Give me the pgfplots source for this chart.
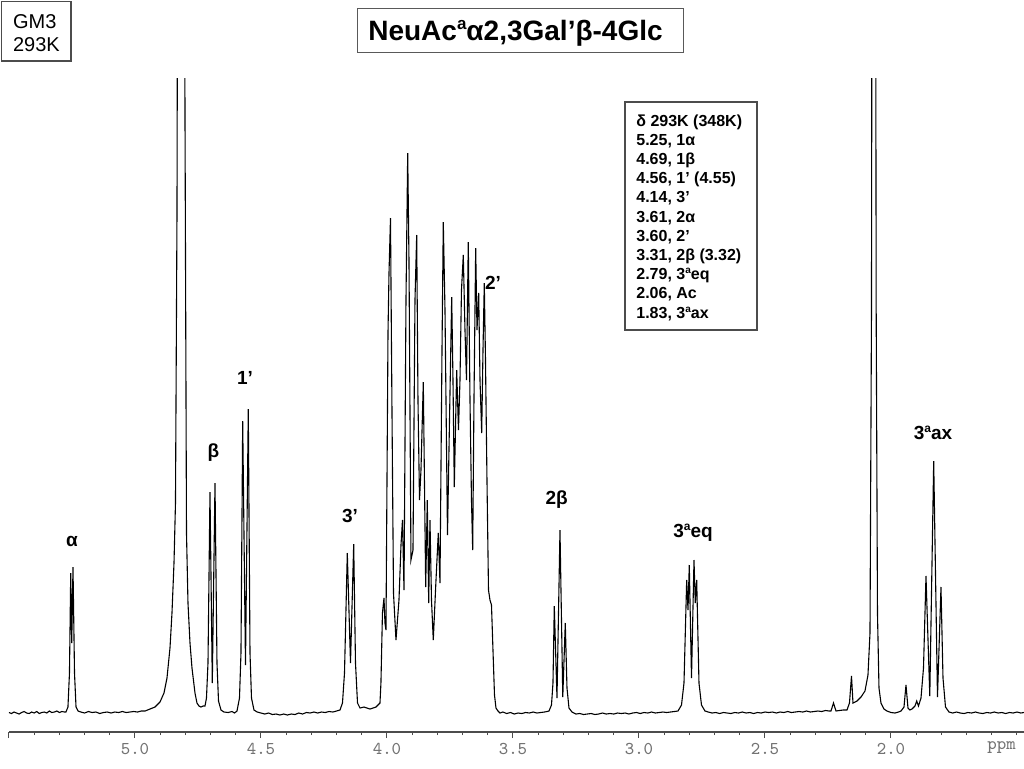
\documentclass[border=0pt]{standalone}
\usepackage{fontspec}
\setmainfont{Liberation Sans}
\usepackage{pgfplots}
\pgfplotsset{compat=1.18}

% small raised "a" (Neu5Ac ring positions)
\newcommand\supa[1]{\raisebox{0.36em}{\fontsize{#1}{#1}\selectfont a}}

\tikzset{
  lbl/.style={font=\bfseries\fontsize{9.5}{11}\selectfont, inner sep=0pt},
  leg/.style={font=\bfseries\fontsize{8}{9}\selectfont, inner sep=0pt, anchor=base west},
  px/.style={x=0.5pt, y=-0.5pt},
  monolbl/.style={font=\ttfamily\fontsize{9}{9}\selectfont\addfontfeatures{LetterSpace=12}, text=black!55},
}

\begin{document}
\begin{tikzpicture}
  \begin{axis}[
      at={(4.5pt,-366pt)}, anchor=south west,
      scale only axis, width=507.5pt, height=327pt,
      x dir=reverse, xmin=1.4722, xmax=5.5,
      ymin=-19, ymax=635,
      axis x line*=bottom, axis y line=none,
      axis line style={black!70, line width=0.6pt},
      tick align=outside,
      major tick length=3pt, minor tick length=1.6pt,
      every tick/.style={black!70, line width=0.5pt},
      xtick={5.5,5,4.5,4,3.5,3,2.5,2},
      xticklabels={,5.0,4.5,4.0,3.5,3.0,2.5,2.0},
      minor xtick={5.4,5.3,5.2,5.1,4.9,4.8,4.7,4.6,4.4,4.3,4.2,4.1,3.9,3.8,3.7,3.6,3.4,3.3,3.2,3.1,2.9,2.8,2.7,2.6,2.4,2.3,2.2,2.1,1.9,1.8,1.7,1.6,1.5},
      xticklabel style={monolbl, yshift=1pt},
    ]
    % 1H spectrum, ppm vs. intensity (px above baseline)
    \addplot[black, line width=0.55pt] coordinates {
      (5.500,0.5)(5.490,-0.5)(5.480,1)(5.470,0)(5.460,-1)(5.450,0.5)(5.440,1.5)(5.430,0)(5.420,-0.5)(5.410,1)
      (5.400,0)(5.390,1.5)(5.380,-0.5)(5.370,0.5)(5.360,1)(5.350,0)(5.340,2)(5.330,0.5)(5.320,1)(5.310,2)
      (5.300,0.5)(5.290,1.5)(5.280,1)
      (5.274,1)(5.266,6)(5.260,40)(5.255,140)(5.251,70)(5.246,146)(5.240,40)(5.234,6)(5.226,2)
      (5.215,1)(5.200,0)(5.185,1.5)(5.170,0.5)(5.155,1)(5.140,-0.5)(5.125,0.5)(5.110,1)(5.095,0)(5.080,1)
      (5.065,0.5)(5.050,1.5)(5.035,0.5)(5.020,1)(5.005,1.5)(4.990,1)(4.975,2)(4.960,2)(4.950,3)
      (4.9405,4)(4.9206,6)(4.9008,11)(4.8849,20)(4.8730,35)(4.8611,65)(4.8532,100)(4.8452,150)(4.8393,210)
      (4.8333,500)(4.8254,1500)(4.8174,3000)(4.8095,1500)(4.8016,600)(4.7956,180)(4.7897,110)(4.7817,70)
      (4.7738,45)(4.7619,20)(4.7540,10)(4.7460,7)(4.7381,6)(4.7301,7)
      (4.7222,7)(4.7163,15)(4.7103,50)(4.7024,221)(4.6932,30)(4.6825,230)(4.6746,50)(4.6686,12)(4.6587,3)(4.6468,1)
      (4.630,0.5)(4.615,1.5)(4.605,0)
      (4.5952,2)(4.5853,15)(4.5794,60)(4.5726,292)(4.5615,48)(4.5504,304)(4.5436,60)(4.5377,15)(4.5278,3)
      (4.515,1)(4.500,0)(4.485,-1)(4.470,0)(4.455,-1.5)(4.440,-1)(4.425,-2)(4.410,-1)(4.395,-2)(4.380,-1)
      (4.365,-1.5)(4.350,0)(4.335,-1)(4.320,0.5)(4.305,0)(4.290,1)(4.275,0)(4.260,1)(4.245,0.5)(4.230,1.5)
      (4.215,1)(4.200,2)
      (4.1865,3)(4.1766,10)(4.1686,40)(4.1575,160)(4.1448,50)(4.1321,169)(4.1250,50)(4.1170,10)(4.1071,5)
      (4.0913,6)(4.0674,4)(4.0436,6)(4.0278,10)
      (4.0240,30)(4.0180,100)(4.0119,115)(4.0080,90)(4.0040,83)(3.9960,380)(3.9920,440)(3.9861,495)(3.9801,300)
      (3.9742,120)(3.9643,73)(3.9524,113)(3.9444,168)(3.9385,193)(3.9325,123)(3.9246,413)(3.9178,560)(3.9127,453)
      (3.9048,153)(3.8968,163)(3.8889,413)(3.8821,478)(3.8770,313)(3.8710,213)(3.8651,243)(3.8559,331)(3.8464,126)
      (3.8401,213)(3.8345,110)(3.8294,193)(3.8234,113)(3.8163,73)(3.8055,133)(3.7964,180)(3.7897,130)(3.7817,363)
      (3.7766,491)(3.7698,403)(3.7599,178)(3.7540,263)(3.7432,416)(3.7381,333)(3.7329,226)(3.7234,343)(3.7163,283)
      (3.7103,333)(3.7044,423)(3.6972,458)(3.6905,383)(3.6845,333)(3.6774,471)(3.6706,313)(3.6647,213)(3.6599,163)
      (3.6548,313)(3.6480,465)(3.6428,383)(3.6361,420)(3.6309,333)(3.6242,280)(3.6190,363)(3.6139,430)(3.6091,353)
      (3.6032,233)(3.5972,123)(3.5913,113)(3.5853,108)(3.5794,63)(3.5734,18)(3.5675,5)(3.5595,2)(3.5516,0)
      (3.540,1)(3.525,-0.5)(3.510,0.5)(3.495,-1)(3.480,0)(3.465,-0.5)(3.450,0.5)(3.435,0)(3.420,1)(3.405,0)
      (3.390,0.5)(3.375,1)(3.365,1.5)
      (3.3571,2)(3.3472,8)(3.3413,30)(3.3361,107)(3.3254,15)(3.3135,183)(3.3024,16)(3.2925,90)(3.2857,25)(3.2778,5)(3.2659,1)
      (3.250,-1)(3.235,-0.5)(3.220,-1.5)(3.205,-1)(3.190,-0.5)(3.175,-1.5)(3.160,-1)(3.145,0)(3.130,-1)(3.115,-0.5)
      (3.100,-1)(3.085,0)(3.070,-0.5)(3.055,0)(3.040,-1)(3.025,0)(3.010,0.5)(2.995,-0.5)(2.980,0.5)(2.965,0)
      (2.950,1)(2.935,0)(2.920,0.5)(2.905,1)(2.890,0.5)(2.875,1)(2.860,1.5)
      (2.8452,2)(2.8313,8)(2.8214,30)(2.8107,133)(2.8055,103)(2.8004,148)(2.7916,35)(2.7817,153)(2.7766,110)
      (2.7710,133)(2.7619,30)(2.7520,8)(2.7381,2)
      (2.725,1)(2.710,0)(2.695,0.5)(2.680,-0.5)(2.665,0.5)(2.650,0)(2.635,-0.5)(2.620,0.5)(2.605,0)(2.590,1)
      (2.575,0)(2.560,0.5)(2.545,-0.5)(2.530,0.5)(2.515,0)(2.500,1)(2.485,0.5)(2.470,1)(2.455,0)(2.440,1)
      (2.425,0.5)(2.410,1.5)(2.395,0.5)(2.380,1)(2.365,1.5)(2.350,1)(2.335,2)(2.320,1)(2.305,1.5)(2.290,2)
      (2.275,1.5)(2.260,2.5)(2.245,2)
      (2.2381,2)(2.2282,10)(2.2182,2)(2.2050,2.5)(2.190,3)(2.1746,3)(2.1647,10)(2.1567,37)(2.1508,10)
      (2.1349,12)(2.1190,16)(2.1032,22)(2.0913,38)(2.0833,80)(2.0774,400)(2.0734,1200)(2.0682,3000)
      (2.0635,1200)(2.0587,400)(2.0536,100)(2.0476,25)(2.0397,10)(2.0278,4)
      (2.0159,2)(2.000,0.5)(1.9841,0)(1.9700,1)(1.9603,2)(1.9484,6)(1.9405,28)(1.9325,5)(1.9250,3)(1.9167,4)
      (1.9048,7)(1.8980,12)(1.8909,7)(1.8809,15)(1.8710,45)(1.8611,137)(1.8460,17)(1.8305,252)(1.8155,16)
      (1.8016,126)(1.7936,35)(1.7837,6)(1.7698,1)
      (1.755,0)(1.740,1)(1.725,0)(1.710,-0.5)(1.695,0.5)(1.680,0)(1.665,1)(1.650,0)(1.635,-0.5)(1.620,0.5)
      (1.605,0)(1.590,1)(1.575,0)(1.560,0.5)(1.545,-0.5)(1.530,0.5)(1.515,0)(1.500,1)(1.485,0)(1.4722,0.5)
    };
  \end{axis}
  \pgfresetboundingbox
  \useasboundingbox (0pt,0pt) rectangle (512pt,-384pt);

  \begin{scope}[px]
  % axis unit
  \node[anchor=west, inner sep=0pt, monolbl] at (987,748) {ppm};

  % sample box
  \draw[black!70, line width=0.7pt] (1.5,1.5) rectangle (71,61);
  \node[anchor=base west, inner sep=0pt, font=\fontsize{10}{12}\selectfont] at (12.7,28.3) {GM3};
  \node[anchor=base west, inner sep=0pt, font=\fontsize{10}{12}\selectfont] at (12.7,51.7) {293K};

  % title
  \draw[black!65, line width=0.7pt] (357.3,8.3) rectangle (683.3,52.7);
  \node[anchor=base, inner sep=0pt, font=\bfseries\fontsize{14}{16}\selectfont] at (515.5,40) {NeuAc\supa{8.5pt}α2,3Gal’β-4Glc};

  % shift table
  \draw[black!70, line width=0.7pt] (625,102) rectangle (757,330);
  \node[leg] at (636,126.0) {δ 293K (348K)};
  \node[leg] at (636,145.2) {5.25, 1α};
  \node[leg] at (636,164.4) {4.69, 1β};
  \node[leg] at (636,183.6) {4.56, 1’ (4.55)};
  \node[leg] at (636,202.8) {4.14, 3’};
  \node[leg] at (636,222.0) {3.61, 2α};
  \node[leg] at (636,241.2) {3.60, 2’};
  \node[leg] at (636,260.4) {3.31, 2β (3.32)};
  \node[leg] at (636,279.6) {2.79, 3\supa{5pt}eq};
  \node[leg] at (636,298.8) {2.06, Ac};
  \node[leg] at (636,318.0) {1.83, 3\supa{5pt}ax};

  % peak assignments
  \node[lbl] at (72,541) {α};
  \node[lbl] at (213.3,453) {β};
  \node[lbl] at (245,378) {1’};
  \node[lbl] at (350,516) {3’};
  \node[lbl] at (493,283) {2’};
  \node[lbl] at (556.7,500) {2β};
  \node[lbl] at (693,533) {3\supa{6pt}eq};
  \node[lbl] at (933,433) {3\supa{6pt}ax};
  \end{scope}
\end{tikzpicture}
\end{document}
